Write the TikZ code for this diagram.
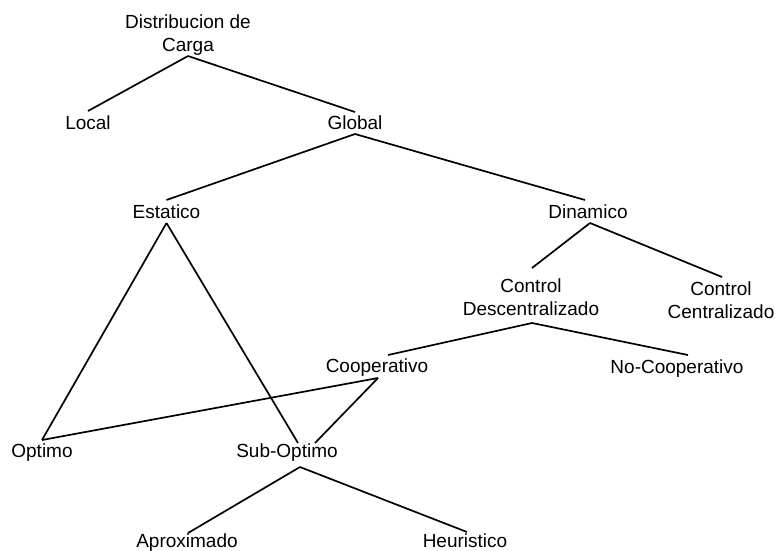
\documentclass[tikz,border=0pt]{standalone}
\usepackage{fontspec}
\setmainfont{Liberation Sans}
\begin{document}
\begin{tikzpicture}[x=1pt,y=-1pt,
  lbl/.style={font=\fontsize{19}{23}\selectfont, inner sep=0pt, align=center, anchor=base},
  edge/.style={line width=1.7pt, black}]
\useasboundingbox (0,0) rectangle (775,550);

% labels, placed by the baseline of their last line
\node[lbl] (dist)   at (188,51)   {Distribucion de\\Carga};
\node[lbl] (local)  at (88,129)   {Local};
\node[lbl] (global) at (355,129)  {Global};
\node[lbl] (est)    at (166.5,218) {Estatico};
\node[lbl] (din)    at (588,218)  {Dinamico};
\node[lbl] (cdesc)  at (531,315)  {Control\\Descentralizado};
\node[lbl] (ccent)  at (721,318)  {Control\\Centralizado};
\node[lbl] (coop)   at (377,372)  {Cooperativo};
\node[lbl] (nocoop) at (677,373)  {No-Cooperativo};
\node[lbl] (opt)    at (42,457)   {Optimo};
\node[lbl] (subopt) at (287,457)  {Sub-Optimo};
\node[lbl] (aprox)  at (187,547)  {Aproximado};
\node[lbl] (heur)   at (465,547)  {Heuristico};

% tree edges
\draw[edge] ([shift={(0,5)}]dist.base)     -- ([shift={(0,-18)}]local.base);
\draw[edge] ([shift={(0,5)}]dist.base)     -- ([shift={(0,-17)}]global.base);
\draw[edge] ([shift={(0,5)}]global.base)   -- ([shift={(0,-18)}]est.base);
\draw[edge] ([shift={(0,5)}]global.base)   -- ([shift={(-3,-18)}]din.base);
\draw[edge] ([shift={(0,5)}]est.base)      -- ([shift={(0,-17)}]opt.base);
\draw[edge] ([shift={(0,5)}]est.base)      -- ([shift={(11,-14)}]subopt.base);
\draw[edge] ([shift={(2,5)}]din.base)      -- ([shift={(1,-47)}]cdesc.base);
\draw[edge] ([shift={(2,5)}]din.base)      -- ([shift={(1,-41)}]ccent.base);
\draw[edge] ([shift={(1,8)}]cdesc.base)    -- ([shift={(11,-17)}]coop.base);
\draw[edge] ([shift={(1,8)}]cdesc.base)    -- ([shift={(11,-18)}]nocoop.base);
\draw[edge] ([shift={(1,6)}]coop.base)     -- ([shift={(0,-17)}]opt.base);
\draw[edge] ([shift={(1,6)}]coop.base)     -- ([shift={(28,-14)}]subopt.base);
\draw[edge] ([shift={(13,10)}]subopt.base) -- ([shift={(1,-14)}]aprox.base);
\draw[edge] ([shift={(13,10)}]subopt.base) -- ([shift={(2,-15)}]heur.base);
\end{tikzpicture}
\end{document}
